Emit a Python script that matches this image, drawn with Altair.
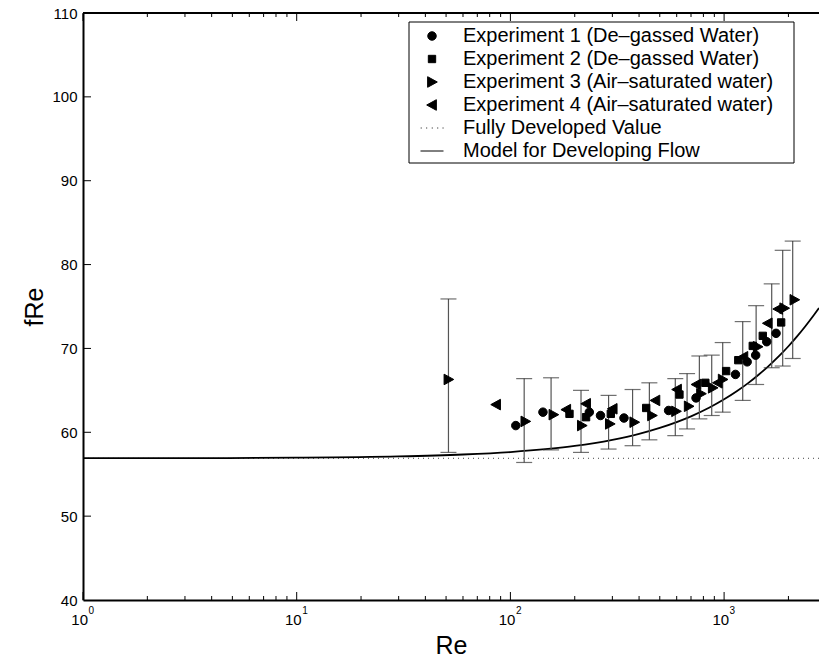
import altair as alt
import pandas as pd

# ---------------- data ----------------
series_names = [
    "Experiment 1 (De–gassed Water)",
    "Experiment 2 (De–gassed Water)",
    "Experiment 3 (Air–saturated water)",
    "Experiment 4 (Air–saturated water)",
    "Fully Developed Value",
    "Model for Developing Flow",
]

exp1_re = [106, 142, 234, 264, 340, 550, 739, 1130, 1282, 1405, 1583, 1750]
exp1_fre = [60.8, 62.4, 62.4, 62.0, 61.7, 62.6, 64.1, 66.9, 68.4, 69.2, 70.8, 71.8]

exp2_re = [189, 226, 295, 432, 618, 817, 1022, 1165, 1362, 1517, 1849]
exp2_fre = [62.2, 61.8, 62.2, 62.9, 64.5, 65.9, 67.3, 68.6, 70.3, 71.5, 73.1]

exp3_re = [51.3, 117.5, 159, 216, 292, 380, 460, 596, 683, 780, 885, 985, 1437, 1912, 2133]
exp3_fre = [66.3, 61.3, 62.1, 60.8, 61.0, 61.2, 62.0, 62.5, 63.1, 64.6, 65.3, 66.3, 70.2, 74.8, 75.8]

exp4_re = [85.7, 182.5, 226, 301, 477, 602, 742, 934, 1231, 1600, 1790]
exp4_fre = [63.3, 62.7, 63.4, 62.8, 63.8, 65.1, 65.7, 65.9, 69.0, 73.0, 74.7]

err_re = [51.3, 116, 155, 214, 288, 373, 447, 591, 671, 766, 875, 985, 1222, 1412, 1670, 1880, 2094]
err_lo = [57.6, 56.4, 57.9, 57.6, 58.0, 58.4, 59.1, 59.6, 60.4, 61.6, 62.0, 62.4, 63.8, 65.7, 67.7, 67.9, 68.8]
err_hi = [75.9, 66.4, 66.5, 65.0, 64.4, 65.1, 65.9, 66.4, 67.0, 69.1, 69.2, 70.7, 73.2, 75.1, 77.7, 81.7, 82.8]

fully_developed = 56.9

model_re = [1, 3, 10, 30, 60, 100, 150, 200, 300, 400, 500, 700, 850, 1000, 1150, 1300,
            1450, 1600, 1800, 2000, 2200, 2400, 2600, 2780]
model_fre = [56.91, 56.92, 56.97, 57.12, 57.35, 57.64, 58.01, 58.37, 59.10, 59.81, 60.52,
             61.90, 62.92, 63.93, 64.92, 65.89, 66.86, 67.80, 69.04, 70.26, 71.46, 72.64,
             73.80, 74.82]

x_major_ticks = [1, 10, 100, 1000]
x_tick_base = ["10", "10", "10", "10"]
x_tick_exponent = ["0", "1", "2", "3"]
x_minor_ticks = [2, 3, 4, 5, 6, 7, 8, 9, 20, 30, 40, 50, 60, 70, 80, 90,
                 200, 300, 400, 500, 600, 700, 800, 900, 2000]
y_ticks = [50, 60, 70, 80, 90, 100]
y_labels = [40, 50, 60, 70, 80, 90, 100, 110]

# ---------------- tables ----------------
pts = pd.concat([
    pd.DataFrame({"Re": exp1_re, "fRe": exp1_fre, "series": series_names[0]}),
    pd.DataFrame({"Re": exp2_re, "fRe": exp2_fre, "series": series_names[1]}),
    pd.DataFrame({"Re": exp3_re, "fRe": exp3_fre, "series": series_names[2]}),
    pd.DataFrame({"Re": exp4_re, "fRe": exp4_fre, "series": series_names[3]}),
], ignore_index=True)
err = pd.DataFrame({"Re": err_re, "lo": err_lo, "hi": err_hi})
caps = pd.DataFrame({"Re": err_re + err_re, "fRe": err_lo + err_hi})
model = pd.DataFrame({"Re": model_re, "fRe": model_fre})
fd = pd.DataFrame({"fRe": [fully_developed]})
xmaj = pd.DataFrame({"Re": x_major_ticks, "base": x_tick_base, "exp": x_tick_exponent})
xmin = pd.DataFrame({"Re": x_minor_ticks})
ytk = pd.DataFrame({"fRe": y_ticks})

# ---------------- layout / style ----------------
W, H = 736, 587
FONT = "Liberation Sans"
xscale = alt.Scale(type="log", domain=[1, 2780], nice=False)
yscale = alt.Scale(domain=[40, 110], nice=False, zero=False)

circle = "M0.37,0A0.37,0.37,0,1,1,-0.37,0A0.37,0.37,0,1,1,0.37,0Z"
square = "M-0.32,-0.32H0.32V0.32H-0.32Z"
tri_r = "M-0.38,-0.46L0.46,0L-0.38,0.46Z"
tri_l = "M0.38,-0.46L-0.46,0L0.38,0.46Z"
dotted = "M-0.98,0H-0.9M-0.5,0H-0.42M-0.02,0H0.06M0.46,0H0.54M0.92,0H1"
solid = "M-1,0H1"

x_axis = alt.Axis(
    values=x_major_ticks, grid=False, ticks=False, tickSize=0, labels=False,
    domainColor="black", domainWidth=2,
    title="Re", titleFont=FONT, titleFontSize=25, titleFontWeight="normal",
    titleColor="black", titleBaseline="alphabetic", titleY=53,
)
y_axis = alt.Axis(
    values=y_labels, grid=False, ticks=False, tickSize=0,
    domainColor="black", domainWidth=2,
    labelFont=FONT, labelFontSize=15, labelColor="black", labelPadding=6,
    title="fRe", titleFont=FONT, titleFontSize=25, titleFontWeight="normal",
    titleColor="black", titleBaseline="alphabetic", titleX=-41,
)

X = alt.X("Re:Q", scale=xscale, axis=x_axis)
Y = alt.Y("fRe:Q", scale=yscale, axis=y_axis)

fd_layer = alt.Chart(fd).mark_rule(color="#444", strokeWidth=1, strokeDash=[1, 4]).encode(y=Y)

model_layer = alt.Chart(model).mark_line(color="black", strokeWidth=1.8, interpolate="monotone").encode(
    x=X, y=Y)

err_layer = alt.Chart(err).mark_rule(color="#555", strokeWidth=1.2).encode(
    x=X,
    y=alt.Y("lo:Q", scale=yscale, axis=y_axis),
    y2="hi:Q",
)

cap_layer = alt.Chart(caps).mark_tick(color="#333", thickness=1.2, size=16, orient="horizontal").encode(
    x=X, y=Y)

pt_layer = alt.Chart(pts).mark_point(
    filled=True, color="black", stroke="black", strokeWidth=1, opacity=1, size=529
).encode(
    x=X, y=Y,
    shape=alt.Shape(
        "series:N",
        title=None,
        scale=alt.Scale(domain=series_names, range=[circle, square, tri_r, tri_l, dotted, solid]),
        legend=alt.Legend(
            orient="none", legendX=337, legendY=11,
            padding=0, symbolOffset=0, labelOffset=19, rowPadding=1,
            labelFont=FONT, labelFontSize=20, labelColor="black", labelLimit=600,
            symbolSize=529, symbolStrokeWidth=1,
        ),
    ),
)

legend_box = alt.Chart(fd).mark_rect(fill="white", stroke="black", strokeWidth=1).encode(
    x=alt.value(409 - 83), x2=alt.value(794 - 83), y=alt.value(22 - 13), y2=alt.value(163 - 13))

# x tick labels as 10 with a raised exponent
tick_label_base = alt.Chart(xmaj).mark_text(
    font=FONT, fontSize=15, color="black", align="right", baseline="alphabetic", dx=5
).encode(x=X, y=alt.value(H + 25), text="base:N")
tick_label_exp = alt.Chart(xmaj).mark_text(
    font=FONT, fontSize=10, color="black", align="left", baseline="alphabetic", dx=5.5
).encode(x=X, y=alt.value(H + 14), text="exp:N")

tick_bottom_major = alt.Chart(xmaj).mark_rule(color="black", strokeWidth=1).encode(
    x=X, y=alt.value(H), y2=alt.value(H - 8))
tick_top_major = alt.Chart(xmaj).mark_rule(color="black", strokeWidth=1).encode(
    x=X, y=alt.value(0), y2=alt.value(8))
tick_bottom_minor = alt.Chart(xmin).mark_rule(color="black", strokeWidth=1).encode(
    x=X, y=alt.value(H), y2=alt.value(H - 4))
tick_top_minor = alt.Chart(xmin).mark_rule(color="black", strokeWidth=1).encode(
    x=X, y=alt.value(0), y2=alt.value(4))
tick_left = alt.Chart(ytk).mark_rule(color="black", strokeWidth=1).encode(
    y=Y, x=alt.value(0), x2=alt.value(8))
top_frame = alt.Chart(fd).mark_rule(color="black", strokeWidth=2).encode(
    x=alt.value(0), x2=alt.value(W), y=alt.value(0))

chart = alt.layer(
    fd_layer, model_layer, err_layer, cap_layer, pt_layer,
    tick_bottom_major, tick_top_major, tick_bottom_minor, tick_top_minor, tick_left, top_frame,
    tick_label_base, tick_label_exp, legend_box,
).properties(
    width=W, height=H,
    autosize=alt.AutoSizeParams(type="none"),
    padding={"left": 83, "top": 13, "right": 0, "bottom": 60},
    background="white",
).configure_view(stroke=None)

chart.save("out.html", embed_options={"renderer": "svg", "actions": False})
